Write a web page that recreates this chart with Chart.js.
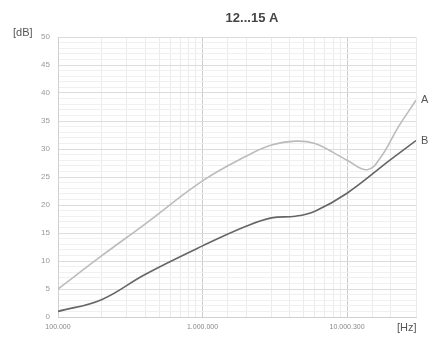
<!DOCTYPE html>
<html>
<head>
<meta charset="utf-8">
<script src="https://cdn.jsdelivr.net/npm/chart.js@4.4.1/dist/chart.umd.min.js"></script>
<style>
  html, body { margin: 0; padding: 0; background: #fff; }
  #wrap { width: 429px; height: 338px; }
</style>
</head>
<body>
<div id="wrap"><canvas id="grafica"></canvas></div>
<script>
// ---------- DATOS ----------
const frecA = [1e5, 2e5, 4e5, 1e6, 2e6, 3e6, 4.4e6, 6e6, 8e6, 1e7, 1.38e7, 1.72e7, 2.26e7, 3e7];
const valA  = [5.0, 10.9, 16.6, 24.3, 28.7, 30.7, 31.4, 31.0, 29.4, 28.0, 26.3, 28.6, 33.9, 38.7];
const frecB = [1e5, 2e5, 4e5, 1e6, 2e6, 3e6, 4.4e6, 6e6, 1e7, 2e7, 3e7];
const valB  = [1.0, 3.1, 7.6, 12.7, 16.2, 17.7, 18.0, 18.9, 22.1, 28.1, 31.5];
const etiquetasX = { 100000: '100.000', 1000000: '1.000.000', 10000000: '10.000.300' };
const titulo = '12...15 A';

const puntos = (xs, ys) => xs.map((x, i) => ({ x: x, y: ys[i] }));

// textos extra: titulo, unidades y nombres de curvas
const textos = {
  id: 'textos',
  afterDraw(chart) {
    const ctx = chart.ctx;
    const area = chart.chartArea;
    const y = chart.scales.y;
    ctx.save();
    ctx.textBaseline = 'middle';
    ctx.fillStyle = '#444';
    ctx.font = 'bold 13px "Liberation Sans", Arial, sans-serif';
    ctx.textAlign = 'center';
    ctx.fillText(titulo, 252, 18);
    ctx.fillStyle = '#555';
    ctx.font = '11px "Liberation Sans", Arial, sans-serif';
    ctx.textAlign = 'left';
    ctx.fillText('[dB]', 13, 33);
    ctx.fillText('[Hz]', 397, 328);
    ctx.fillText('A', area.right + 5, y.getPixelForValue(valA[valA.length - 1]));
    ctx.fillText('B', area.right + 5, y.getPixelForValue(valB[valB.length - 1]));
    ctx.restore();
  }
};

new Chart(document.getElementById('grafica'), {
  type: 'line',
  data: {
    datasets: [
      { label: 'A', data: puntos(frecA, valA), borderColor: '#bcbcbc', borderWidth: 1.6, pointRadius: 0, tension: 0.4 },
      { label: 'B', data: puntos(frecB, valB), borderColor: '#666666', borderWidth: 1.6, pointRadius: 0, tension: 0.4 }
    ]
  },
  options: {
    responsive: true,
    maintainAspectRatio: false,
    animation: false,
    layout: { padding: { top: 37, right: 13, left: 0, bottom: 0 } },
    plugins: { legend: { display: false }, tooltip: { enabled: false } },
    scales: {
      x: {
        type: 'logarithmic',
        min: 1e5,
        max: 3e7,
        afterFit(scale) { scale.height = 21; },
        border: { color: '#d0d0d0' },
        grid: {
          drawTicks: false,
          color: (c) => etiquetasX[c.tick && c.tick.value] ? '#cccccc' : '#ebebeb'
        },
        ticks: {
          autoSkip: false,
          maxRotation: 0,
          padding: 6,
          color: '#888',
          font: { family: '"Liberation Sans", Arial, sans-serif', size: 7 },
          callback: (v) => etiquetasX[v] || ''
        }
      },
      y: {
        min: 0,
        max: 50,
        afterFit(scale) { scale.width = 58; },
        border: { color: '#d0d0d0' },
        grid: {
          drawTicks: false,
          color: (c) => (c.tick && c.tick.value % 5 === 0) ? '#dcdcdc' : '#f0f0f0'
        },
        ticks: {
          stepSize: 1,
          autoSkip: false,
          padding: 8,
          color: '#999',
          font: { family: '"Liberation Sans", Arial, sans-serif', size: 8 },
          callback: (v) => v % 5 === 0 ? v : ''
        }
      }
    }
  },
  plugins: [textos]
});
</script>
</body>
</html>
